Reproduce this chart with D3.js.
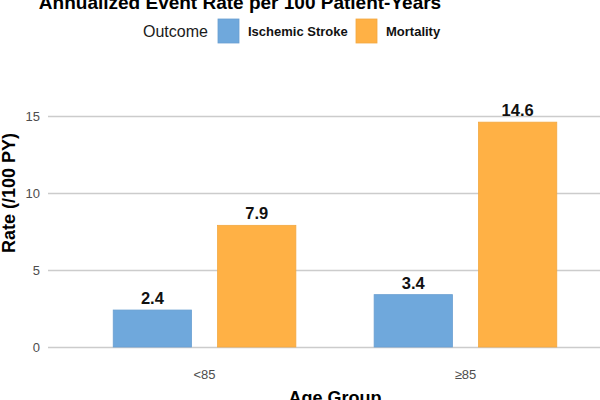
<!DOCTYPE html>
<meta charset="utf-8">
<script src="https://d3js.org/d3.v7.min.js"></script>
<style>
  body { margin: 0; background: #fff; }
  text { font-family: "Liberation Sans", Arial, sans-serif; }
</style>
<div id="my_dataviz"></div>
<script>
  // data
  var groups = ["<85", "\u226585"];
  var outcomes = ["Ischemic Stroke", "Mortality"];
  var strokeRates = [2.4, 3.4];
  var mortalityRates = [7.9, 14.6];
  var yTicks = [0, 5, 10, 15];
  var colors = ["#6fa8dc", "#ffb145"];

  var rows = groups.map(function(g, i) {
    return { group: g, values: [strokeRates[i], mortalityRates[i]] };
  });

  var W = 600, H = 400;
  var panel = { left: 48, right: 622, top: 60, bottom: 358 };

  var svg = d3.select("#my_dataviz")
    .append("svg")
      .attr("width", W)
      .attr("height", H);

  // scales
  var x0 = d3.scaleBand()
    .domain(groups)
    .range([panel.left, panel.right])
    .paddingInner(0.2)
    .paddingOuter(0.2);

  var x1 = d3.scaleBand()
    .domain(outcomes)
    .range([0, x0.bandwidth()])
    .paddingInner(0.25)
    .paddingOuter(0.125);

  var y = d3.scaleLinear()
    .domain([0, 15])
    .range([347, 116]);

  var color = d3.scaleOrdinal().domain(outcomes).range(colors);

  // gridlines + y axis
  var yAxis = svg.append("g")
    .attr("transform", "translate(" + panel.left + ",0)")
    .call(d3.axisLeft(y).tickValues(yTicks).tickSize(-(panel.right - panel.left)).tickPadding(8));
  yAxis.select(".domain").remove();
  yAxis.selectAll(".tick line").attr("stroke", "#cccccc").attr("stroke-width", 1.4);
  yAxis.selectAll(".tick text")
    .attr("fill", "#4d4d4d")
    .style("font-size", "13px")
    .style("font-family", "Liberation Sans, Arial, sans-serif");

  // bars
  var g = svg.append("g").selectAll("g")
    .data(rows)
    .enter().append("g")
      .attr("transform", function(d) { return "translate(" + x0(d.group) + ",0)"; });

  var cells = g.selectAll("g")
    .data(function(d) { return d.values.map(function(v, i) { return { key: outcomes[i], value: v }; }); })
    .enter().append("g");

  cells.append("rect")
    .attr("x", function(d) { return x1(d.key); })
    .attr("y", function(d) { return y(d.value); })
    .attr("width", x1.bandwidth())
    .attr("height", function(d) { return y(0) - y(d.value); })
    .attr("fill", function(d) { return color(d.key); })
    .attr("stroke", function(d) { return d3.color(color(d.key)).darker(0.15); })
    .attr("stroke-width", 0.8);

  cells.append("text")
    .attr("x", function(d) { return x1(d.key) + x1.bandwidth() / 2; })
    .attr("y", function(d) { return y(d.value) - 6; })
    .attr("text-anchor", "middle")
    .style("font-size", "16.5px")
    .style("font-weight", "bold")
    .attr("fill", "#111")
    .text(function(d) { return d.value.toFixed(1); });

  // x axis labels
  var xAxis = svg.append("g")
    .attr("transform", "translate(0," + panel.bottom + ")")
    .call(d3.axisBottom(x0).tickSize(0).tickPadding(12));
  xAxis.select(".domain").remove();
  xAxis.selectAll(".tick text")
    .attr("fill", "#4d4d4d")
    .style("font-size", "13px")
    .style("font-family", "Liberation Sans, Arial, sans-serif");

  // axis titles
  svg.append("text")
    .attr("x", (panel.left + panel.right) / 2)
    .attr("y", 404)
    .attr("text-anchor", "middle")
    .style("font-size", "18px")
    .style("font-weight", "bold")
    .text("Age Group");

  svg.append("text")
    .attr("transform", "translate(15,193) rotate(-90)")
    .attr("text-anchor", "middle")
    .style("font-size", "18px")
    .style("font-weight", "bold")
    .text("Rate (/100 PY)");

  // title
  svg.append("text")
    .attr("x", 240)
    .attr("y", 9)
    .attr("text-anchor", "middle")
    .style("font-size", "19px")
    .style("font-weight", "bold")
    .text("Annualized Event Rate per 100 Patient-Years");

  // legend
  var legend = svg.append("g");
  legend.append("text")
    .attr("x", 143)
    .attr("y", 37)
    .style("font-size", "16px")
    .attr("fill", "#1a1a1a")
    .text("Outcome");

  var keyX = [218, 356];
  var items = legend.selectAll(".item")
    .data(outcomes)
    .enter().append("g")
      .attr("class", "item")
      .attr("transform", function(d, i) { return "translate(" + keyX[i] + ",19)"; });
  items.append("rect")
    .attr("width", 21)
    .attr("height", 24)
    .attr("fill", function(d) { return color(d); })
    .attr("stroke", function(d) { return d3.color(color(d)).darker(0.15); })
    .attr("stroke-width", 0.8);
  items.append("text")
    .attr("x", 30)
    .attr("y", 17)
    .style("font-size", "13px")
    .style("font-weight", "bold")
    .attr("fill", "#111")
    .text(function(d) { return d; });
</script>
